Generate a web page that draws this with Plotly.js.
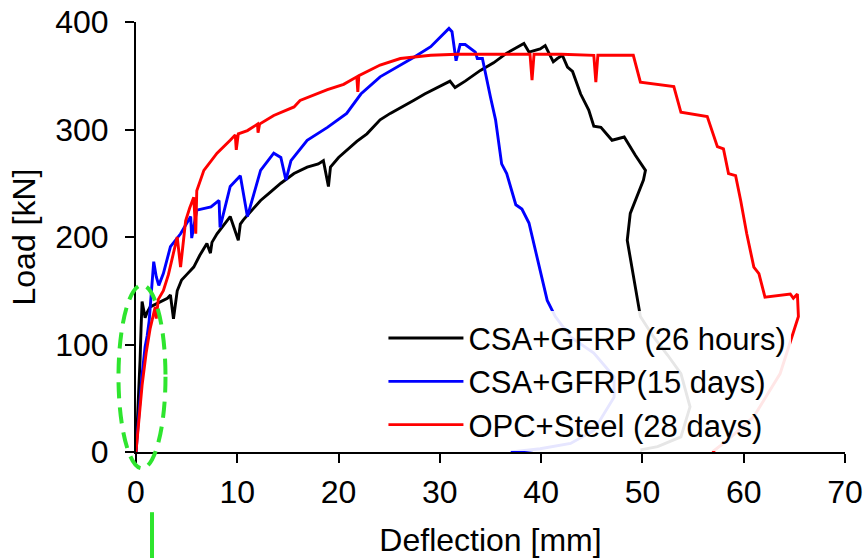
<!DOCTYPE html>
<html>
<head>
<meta charset="utf-8">
<script src="https://cdn.plot.ly/plotly-3.0.1.min.js"></script>
<style>
html,body{margin:0;padding:0;background:#fff;overflow:hidden;}
#chart{width:863px;height:558px;}
</style>
</head>
<body>
<div id="chart"></div>
<script>
// CSA+GFRP (26 hours)
const blackX = [0, 0.2, 0.4, 0.5, 0.6, 0.9, 1.1, 1.4, 2.0, 2.6, 3.1, 3.4, 3.7, 4.07, 4.5, 5.0, 5.7, 6.3, 7.0, 7.35, 7.5, 8.0, 8.6, 9.3, 10.1, 10.3, 10.6, 11.5, 12.3, 13.3, 14.3, 15.6, 16.9, 18.0, 18.5, 19.0, 19.2, 20.0, 20.8, 21.8, 22.8, 24.1, 25.1, 26.0, 27.4, 28.5, 29.5, 30.7, 31.0, 31.5, 32.5, 34.0, 35.3, 36.6, 37.5, 38.3, 38.8, 39.4, 39.9, 40.4, 40.8, 41.2, 41.6, 42.1, 42.6, 43.1, 43.9, 44.7, 45.2, 45.9, 47.0, 48.2, 49.3, 50.3, 50.1, 48.8, 48.5, 49.1, 49.8, 51.1, 52.5, 53.8, 54.7, 53.8, 51.5, 49.8];
const blackY = [0, 40, 85, 115, 140, 125, 130, 135, 138, 141, 143, 146, 124, 150, 160, 165, 172, 183, 194, 185, 195, 203, 210, 219, 197, 212, 216, 226, 234, 242, 250, 259, 265, 268, 271, 247, 265, 274, 281, 289, 296, 309, 315, 320, 327, 333, 338, 344, 345, 339, 345, 355, 362, 371, 376, 380, 372, 374, 375, 378, 370, 363, 366, 369, 358, 354, 333, 318, 303, 302, 290, 293, 276, 262, 253, 222, 197, 166, 126, 107, 90, 73, 42, 14, 5, 2];

// CSA+GFRP (15 days)
const blueX = [0, 0.3, 0.6, 0.9, 1.1, 1.3, 1.5, 1.75, 2.0, 2.25, 2.7, 3.4, 4.4, 5.4, 5.5, 6.0, 7.4, 8.2, 8.3, 9.3, 10.3, 11.0, 12.3, 13.6, 14.3, 14.8, 15.3, 16.9, 18.9, 20.8, 22.2, 24.1, 27.4, 29.1, 30.9, 31.2, 31.6, 32.0, 32.5, 33.5, 33.7, 34.2, 35.0, 35.5, 36.1, 36.6, 37.5, 38.1, 38.8, 40.6, 41.4, 42.9, 45.2, 47.2, 47.2, 45.2, 42.9, 39.9, 38.6, 37.0];
const blueY = [0, 40, 72, 98, 108, 122, 148, 177, 163, 155, 166, 191, 203, 219, 199, 225, 228, 234, 209, 247, 257, 219, 262, 278, 274, 253, 271, 290, 302, 315, 333, 349, 367, 377, 394, 391, 364, 379, 379, 372, 366, 366, 330, 309, 268, 259, 230, 226, 213, 141, 126, 107, 92, 70, 51, 20, 8, 3, 1.6, 0];

// OPC+Steel (28 days)
const redX = [0, 0.3, 0.6, 1.0, 1.4, 1.9, 2.0, 2.2, 2.7, 3.2, 3.7, 4.07, 4.4, 4.9, 5.3, 5.7, 5.9, 6.0, 6.7, 8.0, 9.3, 9.8, 9.9, 10.1, 11.0, 12.0, 12.05, 12.2, 13.6, 15.6, 16.2, 18.9, 20.5, 21.8, 21.9, 22.0, 24.1, 26.1, 29.1, 31.7, 35.0, 38.9, 39.1, 39.3, 42.0, 45.2, 45.4, 45.6, 49.1, 49.8, 53.1, 53.8, 56.4, 57.4, 58.0, 58.5, 59.2, 59.7, 60.3, 61.0, 61.5, 62.1, 64.6, 64.9, 65.3, 65.4, 63.6, 61.0, 58.4, 56.9];
const redY = [0, 30, 62, 92, 115, 135, 124, 142, 150, 165, 185, 200, 172, 215, 227, 237, 203, 243, 262, 278, 290, 295, 281, 296, 299, 305, 297, 305, 313, 321, 327, 337, 342, 349, 335, 350, 360, 366, 369, 370, 370, 370, 346, 370, 370, 369, 344, 369, 369, 344, 340, 316, 312, 284, 282, 259, 257, 234, 203, 172, 166, 144, 147, 143, 147, 126, 73, 33, 11, 0];

const seriesNames = ["CSA+GFRP (26 hours)", "CSA+GFRP(15 days)", "OPC+Steel (28 days)"];
const seriesColors = ["#000000", "#0000ff", "#ff0000"];

const xTicks = [0, 10, 20, 30, 40, 50, 60, 70];
const yTicks = [0, 100, 200, 300, 400];

const FONT = "Liberation Sans, Arial, sans-serif";

const xs = [blackX, blueX, redX];
const ys = [blackY, blueY, redY];
const traces = xs.map((x, i) => ({
  x: x, y: ys[i], type: "scatter", mode: "lines", name: seriesNames[i],
  line: {color: seriesColors[i], width: 2.9}
}));

const layout = {
  width: 863, height: 558,
  margin: {l: 135.5, r: 18.4, t: 21.7, b: 106.3},
  paper_bgcolor: "#fff", plot_bgcolor: "#fff",
  font: {family: FONT, color: "#000", size: 32},
  showlegend: true,
  legend: {
    x: 0.349, y: 0.327, xanchor: "left", yanchor: "top",
    bgcolor: "rgba(255,255,255,0.9)", borderwidth: 0,
    font: {family: FONT, size: 31, color: "#000"},
    itemwidth: 75, tracegroupgap: 0
  },
  xaxis: {
    range: [0, 70], tickvals: xTicks, ticktext: xTicks.map(String),
    showgrid: false, zeroline: false, showline: true, linecolor: "#000", linewidth: 2,
    ticks: "outside", ticklen: 9, tickwidth: 2, tickcolor: "#000",
    tickfont: {family: FONT, size: 32}, ticklabelstandoff: 2,
    title: {text: "Deflection [mm]", font: {family: FONT, size: 32}, standoff: 20},
    fixedrange: true
  },
  yaxis: {
    range: [0, 400], tickvals: yTicks, ticktext: yTicks.map(String),
    showgrid: false, zeroline: false, showline: true, linecolor: "#000", linewidth: 2,
    ticks: "outside", ticklen: 9, tickwidth: 2, tickcolor: "#000",
    tickfont: {family: FONT, size: 32}, ticklabelstandoff: 10,
    title: {text: "Load [kN]", font: {family: FONT, size: 32}, standoff: 10},
    fixedrange: true
  },
  shapes: [
    {type: "circle", xref: "paper", yref: "paper",
     x0: -0.0247, x1: 0.0416, y0: -0.038, y1: 0.388,
     line: {color: "#2ee52e", width: 4, dash: "16px,9px"}, layer: "above"},
    {type: "line", xref: "paper", yref: "paper",
     x0: 0.0226, x1: 0.0226, y0: -0.14, y1: -0.26,
     line: {color: "#2ee52e", width: 4}, layer: "above"}
  ]
};

Plotly.newPlot("chart", traces, layout, {displayModeBar: false, staticPlot: true});
</script>
</body>
</html>
